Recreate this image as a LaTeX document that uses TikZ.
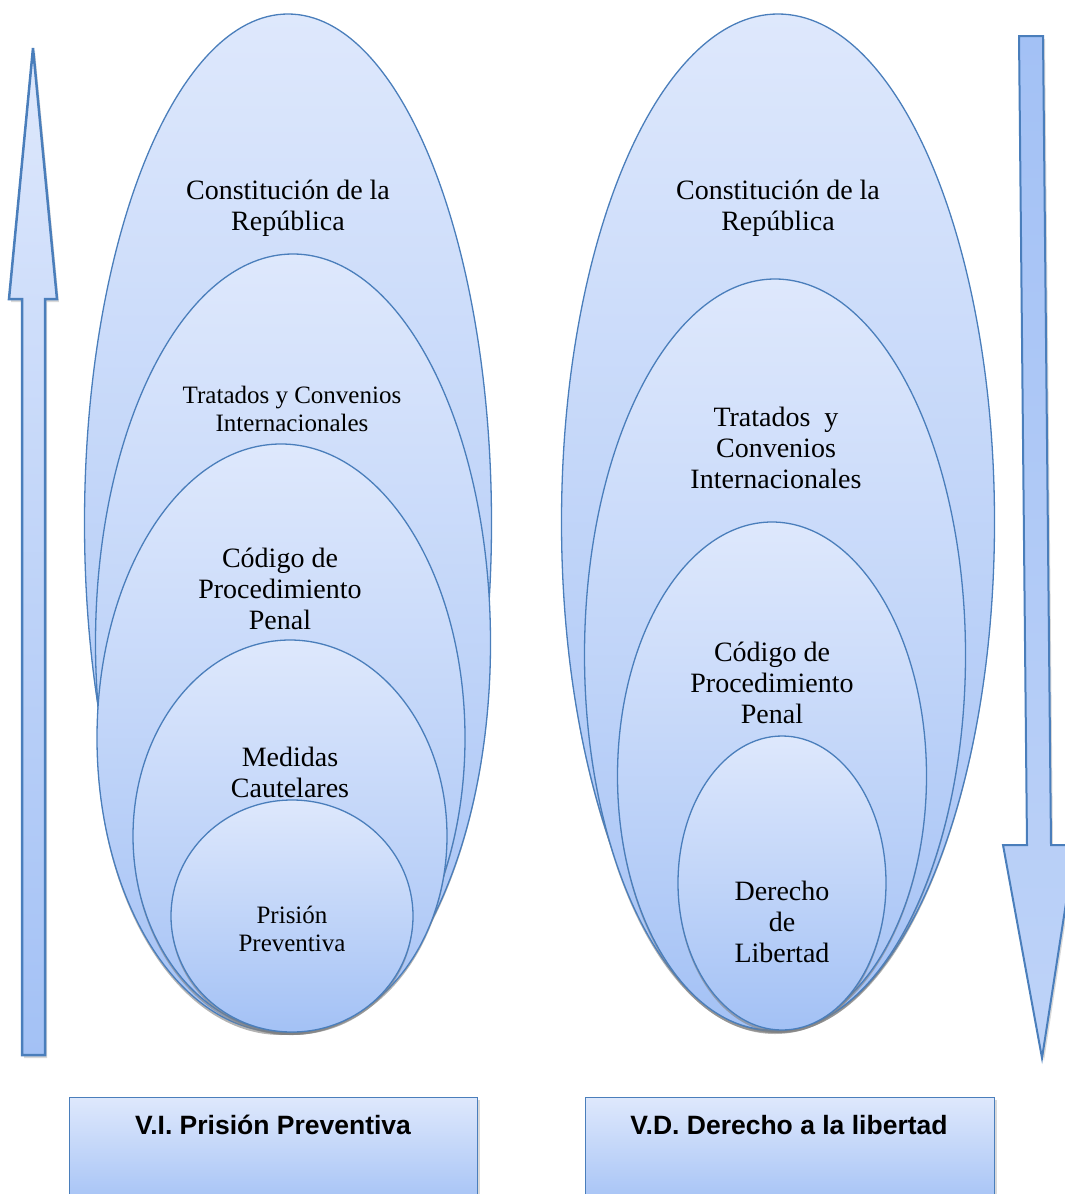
\documentclass[tikz,border=0pt]{standalone}
\usepackage{fontspec}
\setmainfont{Liberation Serif}
\newfontfamily\cajafont{Liberation Sans}
\usetikzlibrary{shapes.geometric,shadows}
\definecolor{borde}{RGB}{74,126,187}
\definecolor{claro}{RGB}{222,232,252}
\definecolor{medio}{RGB}{190,211,248}
\definecolor{oscuro}{RGB}{163,193,245}
\tikzset{
  sombra/.style={drop shadow={shadow xshift=0pt, shadow yshift=-3pt, opacity=0.6}},
  elipse/.style={ellipse, draw=borde, line width=1.3pt, top color=claro, bottom color=oscuro, inner sep=0pt, sombra},
  flecha/.style={draw=borde, line width=2.5pt, line join=miter, drop shadow={shadow xshift=2pt, shadow yshift=-3pt, opacity=0.3}},
  caja/.style={rectangle, draw=borde, line width=1.3pt, top color=claro, bottom color=oscuro, inner sep=0pt, anchor=north west,
    drop shadow={shadow xshift=2pt, shadow yshift=-2pt, opacity=0.3}},
  grande/.style={align=center, font=\fontsize{28}{31}\selectfont},
  chico/.style={align=center, font=\fontsize{25}{28}\selectfont},
  rotulo/.style={font=\cajafont\bfseries\fontsize{26.5}{30}\selectfont}
}
\begin{document}
\begin{tikzpicture}[x=1pt, y=-1pt]
\path[use as bounding box, clip] (0,0) rectangle (1065,1194);

\draw[flecha, top color=claro, bottom color=oscuro] (22,1055) -- (22,299) -- (9,299) -- (33,48) -- (57,299) -- (45,299) -- (45,1055) -- cycle;
\draw[flecha, line width=2pt, top color=oscuro, bottom color=medio] (1019,36) -- (1043,36) -- (1051,845) -- (1075,845) -- (1042,1058) -- (1003,845) -- (1027,845) -- cycle;

\node (izq1) at (288,523) [elipse, minimum width=407pt, minimum height=1018pt] {};
\node (izq2) at (293,643) [elipse, minimum width=395pt, minimum height=778pt] {};
\node (izq3) at (281,738) [elipse, minimum width=368pt, minimum height=588pt] {};
\node (izq4) at (290,836) [elipse, minimum width=314pt, minimum height=392pt] {};
\node (izq5) at (292,916) [elipse, minimum width=242pt, minimum height=232pt] {};

\node (der1) at (778,522) [elipse, minimum width=433pt, minimum height=1016pt] {};
\node (der2) at (775,655) [elipse, minimum width=381pt, minimum height=752pt] {};
\node (der3) at (772,776) [elipse, minimum width=309pt, minimum height=508pt] {};
\node (der4) at (782,883) [elipse, minimum width=208pt, minimum height=294pt] {};

\node (t-izq1) at (288,208) [grande] {Constitución de la\\República};
\node (t-izq2) at (292,409) [chico] {Tratados y Convenios\\Internacionales};
\node (t-izq3) at (280,589) [grande] {Código de\\Procedimiento\\Penal};
\node (t-izq4) at (290,772) [grande] {Medidas\\Cautelares};
\node (t-izq5) at (292,929) [chico] {Prisión\\Preventiva};

\node (t-der1) at (778,208) [grande] {Constitución de la\\República};
\node (t-der2) at (776,448) [grande] {Tratados~ y\\Convenios\\Internacionales};
\node (t-der3) at (772,683) [grande] {Código de\\Procedimiento\\Penal};
\node (t-der4) at (782,922) [grande] {Derecho\\de\\Libertad};

\node (vi) at (69,1097) [caja, minimum width=408pt, minimum height=110pt] {};
\node (vd) at (585,1097) [caja, minimum width=409pt, minimum height=110pt] {};
\node (t-vi) at (273,1134) [rotulo, anchor=base] {V.I. Prisión Preventiva};
\node (t-vd) at (789,1134) [rotulo, anchor=base] {V.D. Derecho a la libertad};
\end{tikzpicture}
\end{document}
